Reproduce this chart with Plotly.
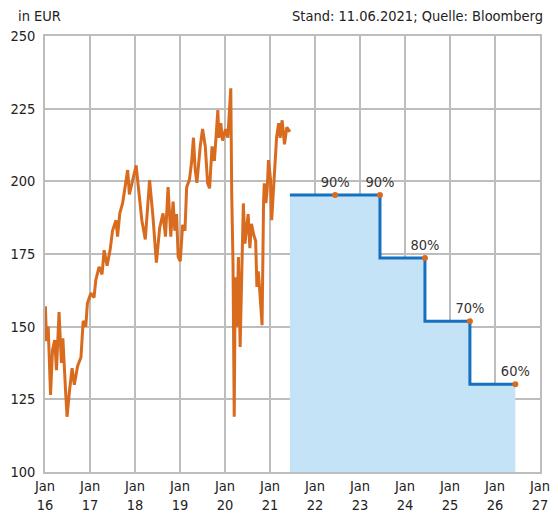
import plotly.graph_objects as go

# ---- stock price (EUR) ----
price_dates = [
    "2016-01-04", "2016-01-14", "2016-01-27", "2016-02-15", "2016-03-02", "2016-03-20",
    "2016-04-03", "2016-04-24", "2016-05-13", "2016-05-25", "2016-06-16", "2016-06-28",
    "2016-07-18", "2016-08-08", "2016-08-26", "2016-09-22", "2016-10-19", "2016-11-06",
    "2016-11-27", "2016-12-10",
    "2017-01-07", "2017-02-02", "2017-02-16", "2017-03-15", "2017-04-08", "2017-04-25",
    "2017-05-19", "2017-06-13", "2017-07-02", "2017-07-30", "2017-08-12", "2017-08-30",
    "2017-09-22", "2017-10-12", "2017-11-02", "2017-11-16", "2017-12-13",
    "2018-01-10", "2018-01-23", "2018-02-06", "2018-02-25", "2018-03-25", "2018-04-29",
    "2018-05-26", "2018-06-23", "2018-07-20", "2018-08-16", "2018-09-05", "2018-09-26",
    "2018-10-18", "2018-11-06", "2018-11-20", "2018-12-04", "2018-12-17",
    "2019-01-03", "2019-01-22", "2019-02-10", "2019-02-24", "2019-03-18", "2019-04-06",
    "2019-04-20", "2019-05-04", "2019-05-18", "2019-06-14", "2019-07-03", "2019-07-25",
    "2019-08-13", "2019-08-29", "2019-09-18", "2019-10-07", "2019-10-24", "2019-11-04",
    "2019-11-12", "2019-11-28", "2019-12-12",
    "2020-01-06", "2020-01-24", "2020-02-17", "2020-02-25", "2020-03-06", "2020-03-16",
    "2020-03-24", "2020-04-07", "2020-04-19", "2020-05-03", "2020-05-16", "2020-05-29",
    "2020-06-11", "2020-06-25", "2020-07-07", "2020-07-21", "2020-08-03", "2020-08-21",
    "2020-09-06", "2020-09-16", "2020-09-27", "2020-10-07", "2020-10-28", "2020-11-09",
    "2020-11-15", "2020-11-28", "2020-12-08", "2020-12-19",
    "2021-01-04", "2021-01-14", "2021-01-28", "2021-02-13", "2021-02-23", "2021-03-12",
    "2021-03-24", "2021-04-09", "2021-04-28", "2021-05-17", "2021-06-11",
]
price_values = [
    157, 145, 150, 126.5, 142, 145.4,
    135, 155, 137.5, 146, 128, 119,
    128, 135.7, 130, 136.5, 139.5, 152,
    150, 158,
    161.5, 160, 166, 170.6, 168, 176.3,
    171, 176.5, 183, 186.6, 181, 189,
    192.5, 198, 203.9, 195.5, 201,
    205.5, 200, 193.5, 186.6, 180, 200.4,
    188, 172, 184, 189, 181, 198,
    181, 193, 183, 188.7, 174,
    172.5, 185, 183, 198, 200.5, 207,
    215, 204, 199.5, 212, 218, 212,
    199.3, 197.6, 212, 207, 217.6, 224.5,
    215, 220, 214,
    218, 215, 232, 194.7, 172, 119,
    167, 150, 174, 143, 170.5, 192.4,
    178.6, 184, 188.7, 177, 185.4, 181.6,
    179.5, 163.7, 169, 163.7, 150.5, 192.5,
    199.3, 192.5, 196.8, 207.3,
    201, 186.6, 197, 206, 215.3, 220,
    215, 221, 212.7, 218.6, 217,
]

# ---- barrier schedule ----
start_date = "2021-06-11"
start_price = 217.0
obs_dates = ["2022-06-13", "2023-06-12", "2024-06-11", "2025-06-11", "2026-06-15"]
barrier_pct = [90, 90, 80, 70, 60]
barrier_levels = [start_price * p / 100 for p in barrier_pct]
barrier_labels = [f"{p}%" for p in barrier_pct]

tick_years = list(range(2016, 2028))
tick_vals = [f"{y}-01-01" for y in tick_years]
tick_text = [f"Jan<br>{str(y)[2:]}" for y in tick_years]
y_ticks = [100, 125, 150, 175, 200, 225, 250]

FONT = "Liberation Sans Narrow, Arial Narrow, DejaVu Sans Condensed, sans-serif"
ORANGE = "#d96b1f"
BLUE = "#1670c0"
FILL = "#c5e3f6"
GRID = "#bdbdbd"
FS = 14.5

# page body has an 8px default margin -> figure is sized/positioned to compensate
W, H = 550, 510
ML, MR, MT, MB = 37, 18, 28, 46
PW, PH = W - ML - MR, H - MT - MB

fig = go.Figure()

fig.add_trace(go.Scatter(
    x=[start_date] + obs_dates,
    y=[barrier_levels[0]] + barrier_levels,
    mode="lines",
    line=dict(color=BLUE, width=3, shape="vh"),
    fill="tozeroy",
    fillcolor=FILL,
    hoverinfo="skip",
    showlegend=False,
))

fig.add_trace(go.Scatter(
    x=price_dates, y=price_values,
    mode="lines",
    line=dict(color=ORANGE, width=3),
    showlegend=False,
))

fig.add_trace(go.Scatter(
    x=obs_dates, y=barrier_levels,
    mode="markers+text",
    marker=dict(color=ORANGE, size=6),
    text=barrier_labels,
    textposition="top center",
    textfont=dict(family=FONT, size=FS, color="#333333"),
    showlegend=False,
))

fig.update_layout(
    width=W, height=H,
    margin=dict(l=ML, r=MR, t=MT, b=MB, pad=0),
    plot_bgcolor="white",
    paper_bgcolor="white",
    font=dict(family=FONT, size=FS, color="#222222"),
    xaxis=dict(
        type="date",
        range=["2016-01-01", "2027-01-01"],
        tickmode="array", tickvals=tick_vals, ticktext=tick_text,
        showgrid=True, gridcolor=GRID, gridwidth=1.5,
        showline=True, linecolor=GRID, linewidth=1.5, mirror=True,
        ticks="", zeroline=False, automargin=False,
        tickfont=dict(family=FONT, size=FS, color="#222222"),
    ),
    yaxis=dict(
        range=[100, 250], tickmode="array", tickvals=y_ticks,
        showgrid=True, gridcolor=GRID, gridwidth=1.5,
        showline=True, linecolor=GRID, linewidth=1.5, mirror=True,
        ticks="", zeroline=False, automargin=False, ticklabelstandoff=5,
        tickfont=dict(family=FONT, size=FS, color="#222222"),
    ),
    annotations=[
        dict(text="in EUR", xref="paper", yref="paper",
             x=(8 - ML) / PW, y=1 + (MT - 7.5) / PH,
             xanchor="left", yanchor="middle", showarrow=False,
             font=dict(family=FONT, size=FS, color="#222222")),
        dict(text="Stand: 11.06.2021; Quelle: Bloomberg", xref="paper", yref="paper",
             x=(537 - ML) / PW, y=1 + (MT - 7.5) / PH,
             xanchor="right", yanchor="middle", showarrow=False,
             font=dict(family=FONT, size=FS, color="#222222")),
    ],
)

fig.write_html("out.html")
